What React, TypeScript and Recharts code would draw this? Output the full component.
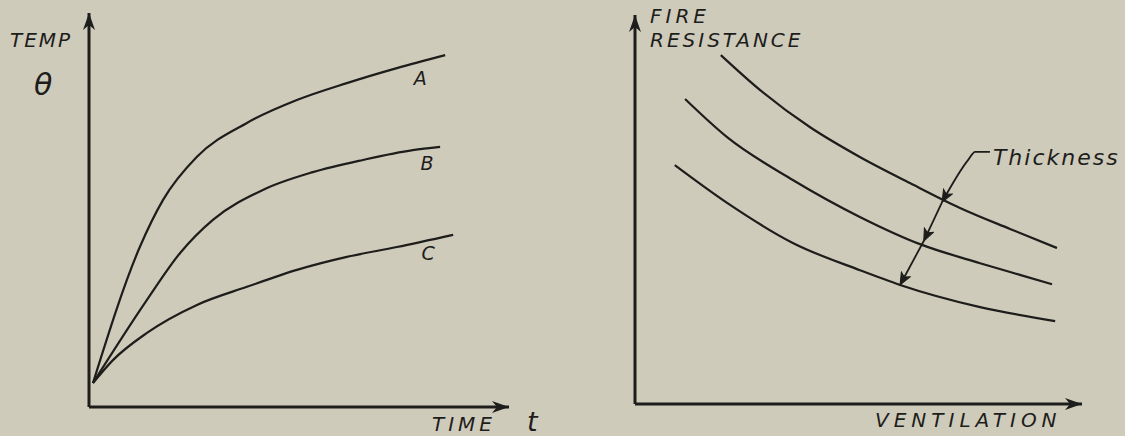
import { LineChart, Line, XAxis, YAxis, Label } from "recharts";

// left panel: temperature vs time (0-100 scale)
const curveA = [
  { t: 0.95, v: 6.1 }, { t: 12.1, v: 40.6 }, { t: 17.6, v: 52.5 },
  { t: 25.7, v: 63.5 }, { t: 37.6, v: 72.1 }, { t: 49.5, v: 77.9 }, { t: 61.4, v: 82.2 },
  { t: 73.3, v: 86.0 }, { t: 84.8, v: 89.3 },
];
const curveB = [
  { t: 0.95, v: 6.1 }, { t: 13.8, v: 27.2 }, { t: 21.7, v: 39.1 },
  { t: 29.5, v: 47.5 }, { t: 41.4, v: 55.1 }, { t: 53.3, v: 59.6 }, { t: 65.2, v: 62.7 },
  { t: 77.1, v: 65.2 }, { t: 83.6, v: 66.0 },
];
const curveC = [
  { t: 0.95, v: 6.1 }, { t: 5.7, v: 11.9 }, { t: 13.8, v: 18.8 }, { t: 25.7, v: 25.9 },
  { t: 37.6, v: 30.5 }, { t: 49.5, v: 34.8 }, { t: 61.4, v: 38.1 }, { t: 73.3, v: 40.6 },
  { t: 86.7, v: 43.7 },
];
const tempSeries = [
  { name: "A", data: curveA },
  { name: "B", data: curveB },
  { name: "C", data: curveC },
];

// right panel: fire resistance vs ventilation, three thicknesses
const thick3 = [
  { t: 19.2, v: 89.7 }, { t: 28.0, v: 80.7 }, { t: 39.1, v: 71.2 }, { t: 50.3, v: 63.5 },
  { t: 61.5, v: 56.8 }, { t: 72.7, v: 50.4 }, { t: 83.9, v: 45.0 }, { t: 94.4, v: 40.1 },
];
const thick2 = [
  { t: 11.2, v: 78.4 }, { t: 20.6, v: 68.6 }, { t: 35.3, v: 57.6 }, { t: 50.3, v: 48.1 },
  { t: 64.2, v: 40.9 }, { t: 77.2, v: 36.2 }, { t: 86.1, v: 33.2 }, { t: 93.3, v: 30.8 },
];
const thick1 = [
  { t: 8.9, v: 61.4 }, { t: 20.6, v: 51.7 }, { t: 35.3, v: 41.4 }, { t: 50.3, v: 34.4 },
  { t: 59.3, v: 30.6 }, { t: 77.2, v: 24.9 }, { t: 94.0, v: 21.3 },
];
const fireSeries = [thick3, thick2, thick1];

// "Thickness" pointer, drawn in three pieces so each gets an arrowhead
const pointerHook = [{ t: 79.4, v: 64.8 }, { t: 76.1, v: 64.8 }, { t: 74.5, v: 62.7 }, { t: 68.7, v: 51.9 }];
const pointerMid = [{ t: 68.7, v: 51.9 }, { t: 64.6, v: 41.9 }];
const pointerLow = [{ t: 64.6, v: 41.9 }, { t: 59.3, v: 30.6 }];

const INK = "#1d1d1b";
const PAPER = "#cfcbbb";
const FONT = "'DejaVu Sans', sans-serif";
const txt = { fill: INK, fontFamily: FONT, fontStyle: "italic" as const };

const labelOffset: Record<string, [number, number]> = { A: [-25, 30], B: [-13, 23], C: [-25, 25] };

const ArrowDefs = ({ id }: { id: string }) => (
  <defs>
    <marker id={`${id}-axis`} markerUnits="userSpaceOnUse" markerWidth={18} markerHeight={14}
      viewBox="0 0 18 14" refX={17} refY={7} orient="auto-start-reverse">
      <path d="M0,1 L17,7 L0,13 L5,7 z" fill={INK} />
    </marker>
    <marker id={`${id}-small`} markerUnits="userSpaceOnUse" markerWidth={14} markerHeight={12}
      viewBox="0 0 14 12" refX={13} refY={6} orient="auto">
      <path d="M1,1 L13,6 L1,11 L4,6 z" fill={INK} stroke={INK} strokeWidth={1} />
    </marker>
  </defs>
);

const TempChart = () => (
  <LineChart width={560} height={436} margin={{ top: 13, right: 51, bottom: 28, left: 88 }}>
    <ArrowDefs id="l" />
    <XAxis type="number" dataKey="t" domain={[0, 100]} height={1} tick={false} tickLine={false}
      axisLine={{ stroke: INK, strokeWidth: 3, markerEnd: "url(#l-axis)" }}>
      <Label content={({ viewBox }: any) => (
        <g>
          <text x={viewBox.x + viewBox.width - 77} y={viewBox.y + 24} fontSize={20} letterSpacing={4} {...txt}>TIME</text>
          <text x={viewBox.x + viewBox.width + 18} y={viewBox.y + 24} fontSize={27} {...txt}>t</text>
        </g>
      )} />
    </XAxis>
    <YAxis type="number" dataKey="v" domain={[0, 100]} width={1} tick={false} tickLine={false}
      axisLine={{ stroke: INK, strokeWidth: 3, markerStart: "url(#l-axis)" }}>
      <Label content={({ viewBox }: any) => (
        <g>
          <text x={viewBox.x - 78} y={viewBox.y + 34} fontSize={20} letterSpacing={2} {...txt}>TEMP</text>
          <text x={viewBox.x - 54} y={viewBox.y + 82} fontSize={30} {...txt}>θ</text>
        </g>
      )} />
    </YAxis>
    {tempSeries.map((s) => (
      <Line key={s.name} data={s.data} dataKey="v" type="monotone" stroke={INK} strokeWidth={2.2}
        dot={false} isAnimationActive={false}
        label={(p: any) => p.index === s.data.length - 1 ? (
          <text x={p.x + labelOffset[s.name][0]} y={p.y + labelOffset[s.name][1]} textAnchor="middle"
            fontSize={19} {...txt}>{s.name}</text>
        ) : null} />
    ))}
  </LineChart>
);

const FireChart = () => (
  <LineChart width={565} height={436} margin={{ top: 15, right: 43, bottom: 31, left: 74 }}>
    <ArrowDefs id="r" />
    <XAxis type="number" dataKey="t" domain={[0, 100]} height={1} tick={false} tickLine={false}
      axisLine={{ stroke: INK, strokeWidth: 3, markerEnd: "url(#r-axis)" }}>
      <Label content={({ viewBox }: any) => (
        <text x={viewBox.x + 240} y={viewBox.y + 23} fontSize={20} letterSpacing={5} {...txt}>VENTILATION</text>
      )} />
    </XAxis>
    <YAxis type="number" dataKey="v" domain={[0, 100]} width={1} tick={false} tickLine={false}
      axisLine={{ stroke: INK, strokeWidth: 3, markerStart: "url(#r-axis)" }}>
      <Label content={({ viewBox }: any) => (
        <g>
          <text x={viewBox.x + 16} y={viewBox.y + 8} fontSize={20} letterSpacing={4} {...txt}>FIRE</text>
          <text x={viewBox.x + 16} y={viewBox.y + 32} fontSize={20} letterSpacing={3} {...txt}>RESISTANCE</text>
        </g>
      )} />
    </YAxis>
    {fireSeries.map((d, i) => (
      <Line key={i} data={d} dataKey="v" type="monotone" stroke={INK} strokeWidth={2.2}
        dot={false} isAnimationActive={false} />
    ))}
    <Line data={pointerHook} dataKey="v" type="monotone" stroke={INK} strokeWidth={1.8} dot={false}
      isAnimationActive={false} markerEnd="url(#r-small)"
      label={(p: any) => p.index === 0 ? (
        <text x={p.x + 3} y={p.y + 13} fontSize={22} letterSpacing={2} {...txt}>Thickness</text>
      ) : null} />
    <Line data={pointerMid} dataKey="v" type="linear" stroke={INK} strokeWidth={1.8} dot={false}
      isAnimationActive={false} markerEnd="url(#r-small)" />
    <Line data={pointerLow} dataKey="v" type="linear" stroke={INK} strokeWidth={1.8} dot={false}
      isAnimationActive={false} markerEnd="url(#r-small)" />
  </LineChart>
);

export default function App() {
  return (
    <div style={{ position: "absolute", left: 0, top: 0, width: 1125, height: 436, background: PAPER, overflow: "hidden" }}>
      <div style={{ position: "absolute", left: 0, top: 0 }}>
        <TempChart />
      </div>
      <div style={{ position: "absolute", left: 560, top: 0 }}>
        <FireChart />
      </div>
    </div>
  );
}
